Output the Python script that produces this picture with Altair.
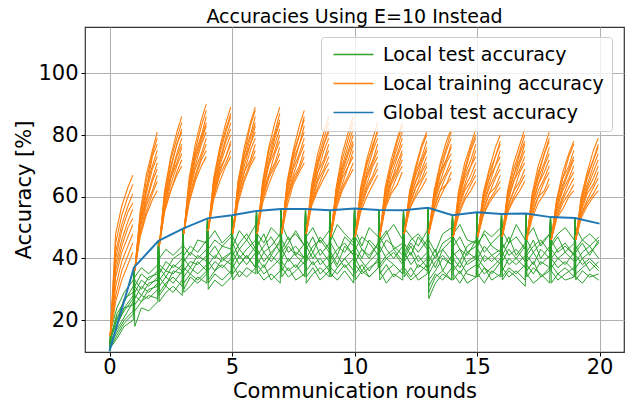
import altair as alt
import pandas as pd

ROUNDS = list(range(21))
GLOBAL_ACC = [10.0, 37.1, 45.7, 49.7, 53.0, 54.0, 55.4, 56.0, 56.0, 55.6, 56.2,
              55.7, 55.6, 56.4, 54.0, 55.0, 54.4, 54.6, 53.4, 53.1, 51.3]

# x positions (in rounds) of the sampled points inside each round
TEST_OFFSETS = [0.03, 0.3, 0.6, 0.97]
TRAIN_OFFSETS = [0.03, 0.25, 0.5, 0.75, 0.95]

# starting value of the training-accuracy bundle of each round
TRAIN_START = [15, 36, 44, 48, 49, 48, 48, 48, 48, 47, 47, 47, 48, 48, 47, 47, 47, 46, 46, 46]

# local training accuracy: per round, per client, values at TRAIN_OFFSETS[1:]
TRAIN_R00 = [[48,57,63,67],[45,54,60,64],[42,51,57,61],[40,49,55,58],[38,46,52,56],[36,44,50,53],[34,42,47,51],[31,39,44,48],[28,36,41,45],[26,33,38,42]]
TRAIN_R01 = [[55,67,75,81],[54,65,74,79],[53,62,73,77],[52,63,70,75],[50,61,69,73],[51,59,66,71],[50,58,65,69],[48,57,62,67],[48,55,61,65],[47,54,59,62]]
TRAIN_R02 = [[62,73,81,86],[61,72,79,84],[60,70,77,82],[59,69,77,81],[59,67,74,79],[58,66,73,77],[57,66,71,76],[56,64,70,74],[56,62,68,72],[55,62,67,70]]
TRAIN_R03 = [[66,77,85,90],[65,75,83,88],[64,74,80,86],[63,73,79,84],[62,72,78,83],[62,70,77,81],[61,69,74,79],[60,67,73,77],[59,66,72,75],[58,65,70,73]]
TRAIN_R04 = [[66,76,84,89],[65,75,82,87],[64,74,81,86],[64,72,79,84],[63,71,78,82],[62,70,76,80],[61,69,73,78],[60,68,73,77],[60,67,71,75],[59,65,70,73]]
TRAIN_R05 = [[65,76,84,89],[65,74,83,88],[64,74,80,86],[63,72,79,84],[62,72,77,83],[62,70,77,81],[61,68,75,79],[60,68,72,77],[59,66,71,75],[58,65,70,73]]
TRAIN_R06 = [[65,76,84,89],[64,75,81,87],[64,73,80,85],[63,71,79,84],[62,71,77,82],[61,70,75,80],[61,67,74,78],[60,67,71,76],[59,66,70,74],[58,64,69,72]]
TRAIN_R07 = [[65,75,83,88],[64,74,80,86],[63,73,80,85],[63,72,77,83],[62,70,77,81],[61,69,74,79],[60,67,73,77],[59,66,70,75],[59,65,69,73],[57,64,68,71]]
TRAIN_R08 = [[64,74,81,86],[63,72,79,84],[62,71,77,82],[61,70,77,81],[61,68,75,79],[60,68,72,77],[59,66,71,75],[58,65,69,73],[58,63,68,71],[57,62,66,69]]
TRAIN_R09 = [[63,74,81,86],[62,72,79,84],[62,70,77,82],[61,69,75,80],[60,68,74,78],[59,67,72,77],[59,66,70,75],[58,64,70,73],[57,63,67,71],[56,62,66,69]]
TRAIN_R10 = [[63,72,79,84],[62,71,76,82],[61,70,77,81],[60,68,75,79],[59,67,72,77],[59,66,71,75],[58,64,70,73],[57,63,67,71],[56,62,66,69],[55,60,64,67]]
TRAIN_R11 = [[63,72,79,84],[62,70,78,83],[61,70,76,81],[60,69,74,79],[59,67,73,77],[59,65,71,75],[58,65,69,74],[57,64,68,72],[57,62,67,70],[56,61,64,68]]
TRAIN_R12 = [[62,70,77,81],[61,69,76,80],[60,68,73,78],[60,67,72,76],[59,65,71,75],[59,65,69,73],[58,63,68,71],[57,63,66,70],[56,61,65,68],[56,60,63,66]]
TRAIN_R13 = [[62,71,78,82],[61,70,76,81],[61,68,75,79],[60,68,72,77],[59,67,72,76],[59,65,71,74],[58,64,68,72],[57,62,67,70],[56,62,64,68],[55,60,64,66]]
TRAIN_R14 = [[62,71,77,82],[61,69,76,80],[60,68,75,79],[59,67,72,77],[59,66,70,75],[58,64,70,73],[57,63,67,71],[56,62,65,69],[55,60,64,67],[54,59,62,65]]
TRAIN_R15 = [[61,69,76,80],[60,68,73,78],[60,66,73,77],[59,66,70,75],[58,64,70,73],[57,63,67,71],[56,61,66,69],[55,61,63,67],[54,59,62,65],[54,58,61,63]]
TRAIN_R16 = [[62,71,77,82],[61,69,75,80],[60,67,74,78],[60,67,72,77],[59,65,71,75],[58,65,69,73],[57,62,68,71],[56,62,65,69],[55,60,64,67],[55,59,62,65]]
TRAIN_R17 = [[61,70,76,81],[60,68,74,79],[59,67,74,78],[59,66,71,76],[58,64,70,74],[57,64,68,72],[56,62,66,70],[55,60,65,68],[54,60,62,66],[53,58,61,64]]
TRAIN_R18 = [[59,68,74,78],[59,66,73,77],[58,66,70,75],[57,64,69,73],[56,63,68,72],[56,62,66,70],[55,60,65,68],[54,59,63,66],[53,58,61,64],[53,56,60,62]]
TRAIN_R19 = [[60,68,75,79],[59,67,72,77],[58,66,72,76],[58,64,70,74],[57,63,68,72],[56,62,66,70],[55,61,64,68],[54,59,63,66],[54,58,61,64],[53,57,60,62]]

# local test accuracy: per client, per round, values at TEST_OFFSETS
TEST_C01 = [[16,24,29,33],[34,37,35,38],[40,43,41,44],[44,41,46,45],[46,49,45,48],[44,49,46,51],[48,45,50,47],[51,46,48,44],[47,50,45,49],[46,51,48,45],[49,44,50,47],[45,48,51,46],[50,47,44,49],[46,42,48,50],[48,51,46,45],[44,49,47,50],[49,45,51,46],[47,50,44,48],[45,48,50,46],[50,46,48,45]]
TEST_C02 = [[14,22,26,31],[31,35,33,36],[38,36,40,42],[41,44,42,46],[43,46,44,47],[47,43,46,42],[44,48,41,46],[42,45,49,44],[46,42,47,43],[48,44,42,47],[43,47,45,41],[46,49,43,45],[42,46,48,44],[44,40,45,47],[47,43,41,46],[45,48,44,42],[41,45,47,43],[46,42,45,48],[44,47,42,45],[43,46,44,47]]
TEST_C03 = [[15,20,27,29],[33,30,34,35],[35,39,37,40],[39,42,40,43],[42,40,44,43],[41,45,48,43],[46,42,44,48],[43,47,41,45],[40,44,46,42],[45,41,47,44],[47,43,40,45],[42,46,44,41],[45,41,47,43],[41,37,43,46],[44,47,42,40],[46,42,45,48],[43,47,41,45],[41,44,46,42],[46,42,44,41],[42,45,41,46]]
TEST_C04 = [[13,21,24,28],[29,33,31,34],[37,34,38,36],[40,37,41,39],[41,44,40,42],[45,40,43,46],[41,44,47,42],[46,42,44,40],[43,47,41,45],[40,43,45,41],[44,40,46,43],[47,43,40,44],[41,45,42,46],[39,43,36,41],[42,39,44,46],[40,44,41,43],[45,41,43,39],[42,46,40,44],[40,43,45,41],[44,40,42,45]]
TEST_C05 = [[14,19,23,27],[31,28,32,33],[33,36,35,38],[36,39,38,41],[38,41,39,42],[39,43,40,44],[43,39,42,45],[40,44,41,38],[44,40,43,39],[42,38,44,41],[39,43,41,45],[44,40,42,38],[40,44,39,42],[37,41,43,39],[40,37,42,44],[43,39,41,38],[39,43,40,44],[41,38,43,40],[43,40,38,42],[39,42,44,40]]
TEST_C06 = [[12,18,24,25],[27,31,29,32],[34,31,36,35],[37,35,39,36],[39,36,40,38],[42,38,41,37],[38,42,39,43],[43,39,42,40],[39,42,38,41],[41,37,40,43],[42,39,36,40],[38,41,43,39],[42,38,41,37],[35,39,41,38],[41,43,38,40],[37,41,39,42],[42,38,40,37],[39,42,38,41],[37,40,42,39],[41,38,40,37]]
TEST_C07 = [[13,17,21,26],[28,26,30,31],[31,34,32,36],[34,37,35,38],[36,39,37,40],[37,41,38,42],[40,37,41,38],[36,40,37,41],[41,38,40,36],[38,41,37,40],[40,36,39,42],[37,40,38,35],[39,42,37,40],[33,36,40,38],[38,35,39,41],[40,37,35,39],[36,40,38,41],[38,35,39,37],[40,37,39,36],[37,40,36,39]]
TEST_C08 = [[12,16,20,23],[25,28,27,30],[29,32,34,31],[32,35,33,36],[33,36,38,35],[35,38,41,37],[38,35,37,40],[39,36,38,34],[36,39,35,38],[34,37,40,36],[38,35,37,39],[35,38,34,37],[37,34,38,36],[31,35,33,37],[36,39,35,34],[38,35,37,40],[34,37,35,38],[36,39,34,37],[38,35,37,34],[35,37,39,36]]
TEST_C09 = [[11,15,19,22],[23,26,28,27],[28,31,29,33],[30,34,32,35],[32,35,33,36],[38,34,37,35],[35,38,33,36],[37,34,36,39],[34,37,33,36],[37,35,38,34],[35,38,34,37],[33,36,38,35],[36,33,35,38],[29,34,36,33],[35,32,36,38],[34,37,33,35],[37,34,36,33],[34,37,35,32],[36,33,35,37],[33,36,34,35]]
TEST_C10 = [[11,14,18,20],[18,24,23,26],[26,29,31,28],[29,31,34,32],[30,33,31,34],[33,36,34,37],[36,33,35,32],[34,37,33,35],[32,35,37,34],[35,33,36,32],[33,36,34,37],[36,32,35,33],[34,37,33,35],[27,32,35,33],[33,36,32,34],[35,32,36,34],[33,36,34,31],[35,32,34,36],[32,35,33,34],[34,32,35,33]]

SERIES = ["Local test accuracy", "Local training accuracy", "Global test accuracy"]
COLORS = ["#2ca02c", "#ff7f0e", "#1f77b4"]

TRAIN_ROUNDS = [TRAIN_R00, TRAIN_R01, TRAIN_R02, TRAIN_R03, TRAIN_R04, TRAIN_R05, TRAIN_R06,
                TRAIN_R07, TRAIN_R08, TRAIN_R09, TRAIN_R10, TRAIN_R11, TRAIN_R12, TRAIN_R13,
                TRAIN_R14, TRAIN_R15, TRAIN_R16, TRAIN_R17, TRAIN_R18, TRAIN_R19]
TEST_CLIENTS = [TEST_C01, TEST_C02, TEST_C03, TEST_C04, TEST_C05,
                TEST_C06, TEST_C07, TEST_C08, TEST_C09, TEST_C10]

# ---- build long tables ----
test_rows = []
for c, client in enumerate(TEST_CLIENTS):
    for r, vals in enumerate(client):
        test_rows.append({"x": r, "y": GLOBAL_ACC[r], "g": f"c{c}", "s": SERIES[0]})
        for off, v in zip(TEST_OFFSETS, vals):
            test_rows.append({"x": r + off, "y": v, "g": f"c{c}", "s": SERIES[0]})
test_df = pd.DataFrame(test_rows)

train_rows = []
for r, clients in enumerate(TRAIN_ROUNDS):
    for c, vals in enumerate(clients):
        ys = [TRAIN_START[r]] + list(vals)
        for off, v in zip(TRAIN_OFFSETS, ys):
            train_rows.append({"x": r + off, "y": v, "g": f"r{r}c{c}", "s": SERIES[1]})
train_df = pd.DataFrame(train_rows)

global_df = pd.DataFrame({"x": ROUNDS, "y": GLOBAL_ACC, "g": "global", "s": SERIES[2]})

FONT = "DejaVu Sans"

x_enc = alt.X("x:Q",
              scale=alt.Scale(domain=[-1, 21], nice=False, zero=False),
              axis=alt.Axis(values=[0, 5, 10, 15, 20], format="d",
                            title="Communication rounds", titlePadding=3,
                            labelPadding=0))
y_enc = alt.Y("y:Q",
              scale=alt.Scale(domain=[9.7, 115], nice=False, zero=False),
              axis=alt.Axis(values=[20, 40, 60, 80, 100], format="d",
                            title="Accuracy [%]", titlePadding=3,
                            labelPadding=3))
# legend sample line: an SVG path 8 units long, drawn from the symbol's left edge
color_enc = alt.Color("s:N",
                      scale=alt.Scale(domain=SERIES, range=COLORS),
                      legend=alt.Legend(title=None, orient="none",
                                        legendX=236, legendY=10,
                                        symbolType="M-1,0H7", symbolSize=100,
                                        symbolStrokeWidth=1.6,
                                        labelFont=FONT, labelFontSize=19,
                                        labelColor="#000000", labelLimit=0,
                                        labelOffset=35, rowPadding=9,
                                        padding=8,
                                        fillColor="rgba(255,255,255,0.8)",
                                        strokeColor="#cccccc",
                                        cornerRadius=3))

test_layer = alt.Chart(test_df).mark_line(strokeWidth=1.0).encode(
    x=x_enc, y=y_enc, color=color_enc, detail="g:N")
train_layer = alt.Chart(train_df).mark_line(strokeWidth=1.1).encode(
    x=x_enc, y=y_enc, color=color_enc, detail="g:N")
global_layer = alt.Chart(global_df).mark_line(strokeWidth=2.0).encode(
    x=x_enc, y=y_enc, color=color_enc, detail="g:N")

chart = alt.layer(test_layer, train_layer, global_layer).properties(
    width=539, height=325,
    title=alt.Title("Accuracies Using E=10 Instead", font=FONT, fontSize=19,
                    fontWeight="normal", color="#000000", anchor="middle",
                    offset=0),
    autosize=alt.AutoSizeParams(type="none"),
    padding={"left": 85, "top": 27, "right": 10, "bottom": 51},
).configure_axis(
    labelFont=FONT, labelFontSize=21, labelColor="#000000",
    titleFont=FONT, titleFontSize=21, titleColor="#000000", titleFontWeight="normal",
    gridColor="#b0b0b0", gridWidth=1, domain=False,
    tickColor="#000000", tickSize=4,
).configure_view(
    stroke="#333333", strokeWidth=1.2
)

chart.save("out.html", embed_options={"renderer": "svg", "actions": False})
